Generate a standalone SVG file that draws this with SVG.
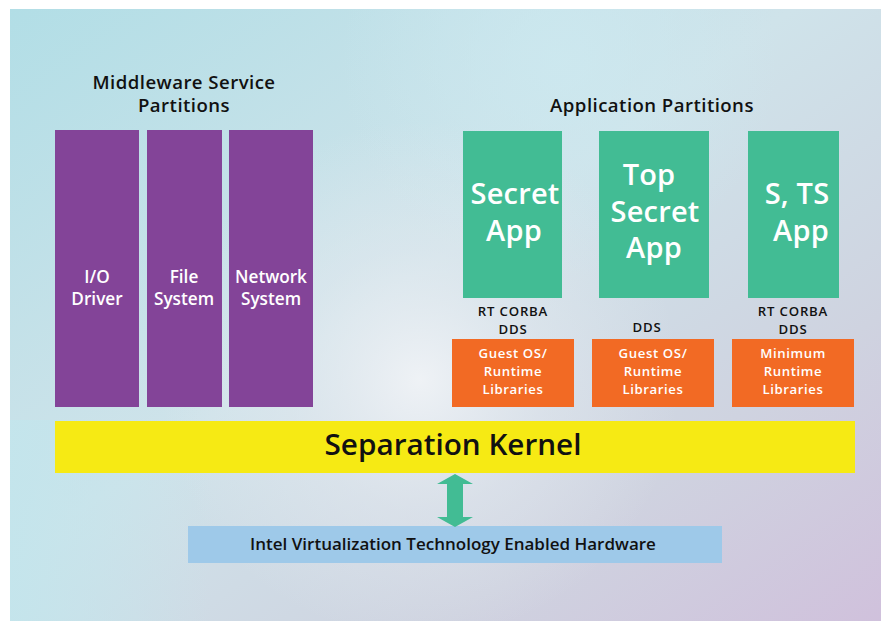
<svg xmlns="http://www.w3.org/2000/svg" width="881" height="621" viewBox="0 0 881 621">
  <defs>
    <linearGradient id="bg" x1="0" y1="0" x2="1" y2="1">
      <stop offset="0" stop-color="#b2dee6"/>
      <stop offset="0.45" stop-color="#cfe3ea"/>
      <stop offset="0.75" stop-color="#cfd3e0"/>
      <stop offset="1" stop-color="#d0c1dc"/>
    </linearGradient>
    <radialGradient id="glow" cx="420" cy="380" r="260" gradientUnits="userSpaceOnUse">
      <stop offset="0" stop-color="#f2f4f7" stop-opacity="0.9"/>
      <stop offset="0.5" stop-color="#e6eaf0" stop-opacity="0.45"/>
      <stop offset="1" stop-color="#e6eaf0" stop-opacity="0"/>
    </radialGradient>
    <radialGradient id="glowTop" cx="560" cy="60" r="220" gradientUnits="userSpaceOnUse">
      <stop offset="0" stop-color="#cde9f0" stop-opacity="0.8"/>
      <stop offset="1" stop-color="#cde9f0" stop-opacity="0"/>
    </radialGradient>
    <linearGradient id="bl" x1="0" y1="0" x2="1" y2="0">
      <stop offset="0" stop-color="#c3e5ec" stop-opacity="0.9"/>
      <stop offset="1" stop-color="#c3e5ec" stop-opacity="0"/>
    </linearGradient>
    <style>
      text { font-family: "Open Sans", Lato, "Liberation Sans", sans-serif; font-weight: 600; text-anchor: middle; }
      .head { font-size: 18.6px; letter-spacing: 0.45px; fill: #111; }
      .mw { fill: #834498; }
      .mwt { font-size: 17.2px; fill: #fff; }
      .app { fill: #42bc94; }
      .appt { font-size: 29px; letter-spacing: 0.2px; fill: #fff; }
      .mid { font-size: 13.2px; letter-spacing: 0.8px; fill: #111; }
      .os { fill: #f26a24; }
      .ost { font-size: 13.2px; letter-spacing: 0.6px; fill: #fff; }
    </style>
  </defs>

  <!-- backdrop -->
  <rect x="10" y="9" width="871" height="612" fill="url(#bg)"/>
  <rect x="10" y="9" width="871" height="612" fill="url(#glowTop)"/>
  <rect x="10" y="9" width="871" height="612" fill="url(#glow)"/>
  <rect x="10" y="420" width="200" height="201" fill="url(#bl)"/>

  <!-- section headings -->
  <text class="head" x="184" y="88.5">Middleware Service</text>
  <text class="head" x="184" y="112">Partitions</text>
  <text class="head" x="652" y="112">Application Partitions</text>

  <!-- middleware partitions -->
  <g id="io-driver">
    <rect class="mw" x="55" y="130" width="84" height="277"/>
    <text class="mwt" x="97" y="283">I/O</text>
    <text class="mwt" x="97" y="305">Driver</text>
  </g>
  <g id="file-system">
    <rect class="mw" x="147" y="130" width="75" height="277"/>
    <text class="mwt" x="184" y="283">File</text>
    <text class="mwt" x="184" y="305">System</text>
  </g>
  <g id="network-system">
    <rect class="mw" x="229" y="130" width="84" height="277"/>
    <text class="mwt" x="271" y="283">Network</text>
    <text class="mwt" x="271" y="305">System</text>
  </g>

  <!-- application partitions -->
  <g id="secret-app">
    <rect class="app" x="463" y="131" width="99" height="167"/>
    <text class="appt" x="515" y="204">Secret</text>
    <text class="appt" x="514" y="241">App</text>
  </g>
  <g id="top-secret-app">
    <rect class="app" x="599" y="131" width="110" height="167"/>
    <text class="appt" x="649" y="185">Top</text>
    <text class="appt" x="655" y="221.5">Secret</text>
    <text class="appt" x="654" y="258">App</text>
  </g>
  <g id="s-ts-app">
    <rect class="app" x="748" y="131" width="91" height="167"/>
    <text class="appt" x="797" y="204">S, TS</text>
    <text class="appt" x="801" y="241">App</text>
  </g>

  <!-- middleware labels -->
  <g id="mw-labels">
    <text class="mid" x="513" y="316">RT CORBA</text>
    <text class="mid" x="513" y="334">DDS</text>
    <text class="mid" x="647" y="332">DDS</text>
    <text class="mid" x="793" y="316">RT CORBA</text>
    <text class="mid" x="793" y="334">DDS</text>
  </g>

  <!-- runtime boxes -->
  <g id="guest-os-1">
    <rect class="os" x="452" y="339" width="122" height="68"/>
    <text class="ost" x="513" y="358">Guest OS/</text>
    <text class="ost" x="513" y="376">Runtime</text>
    <text class="ost" x="513" y="394">Libraries</text>
  </g>
  <g id="guest-os-2">
    <rect class="os" x="592" y="339" width="122" height="68"/>
    <text class="ost" x="653" y="358">Guest OS/</text>
    <text class="ost" x="653" y="376">Runtime</text>
    <text class="ost" x="653" y="394">Libraries</text>
  </g>
  <g id="minimum-runtime">
    <rect class="os" x="732" y="339" width="122" height="68"/>
    <text class="ost" x="793" y="358">Minimum</text>
    <text class="ost" x="793" y="376">Runtime</text>
    <text class="ost" x="793" y="394">Libraries</text>
  </g>

  <!-- kernel -->
  <g id="separation-kernel">
    <rect x="55" y="421" width="800" height="52" fill="#f6ea14"/>
    <text x="453" y="455" style="font-size:29.7px; fill:#111;">Separation Kernel</text>
  </g>

  <!-- hardware -->
  <g id="hardware">
    <rect x="188" y="526" width="534" height="37" fill="#9ec9e9"/>
    <text x="453" y="550" style="font-size:17px; fill:#111;">Intel Virtualization Technology Enabled Hardware</text>
  </g>

  <!-- link between kernel and hardware -->
  <g id="connectors">
    <path d="M455 474 L473 484 L463 484 L463 517 L473 517 L455 527 L437 517 L447 517 L447 484 L437 484 Z" fill="#42bc94"/>
  </g>
</svg>
